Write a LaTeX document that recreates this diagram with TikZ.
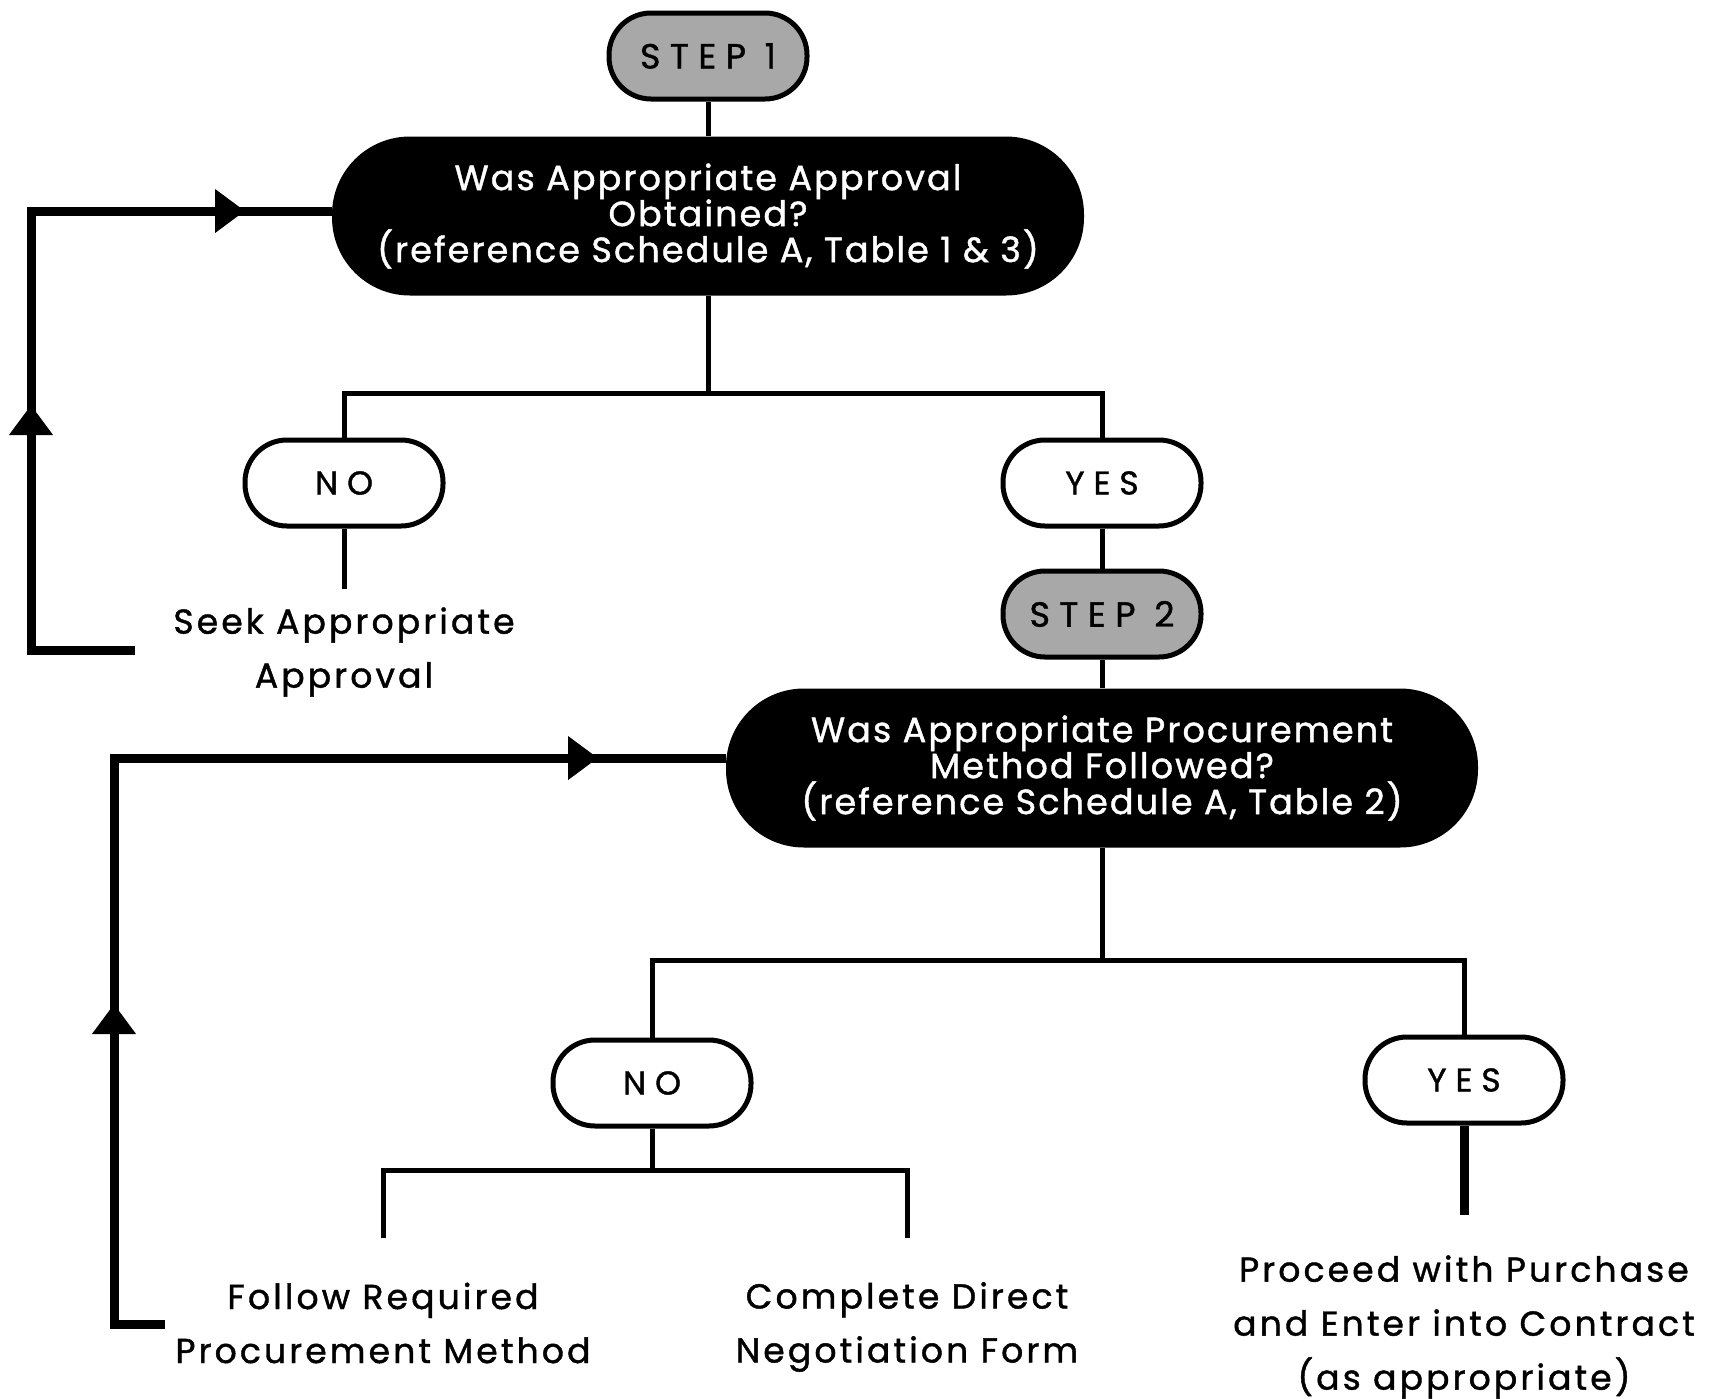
\documentclass[tikz,border=0pt]{standalone}
\usepackage{fontspec}
\setmainfont{Poppins}
\newfontfamily\stepfont{Poppins}[LetterSpace=27, FakeBold=1.2]
\newfontfamily\askfont{Poppins}[LetterSpace=6, FakeBold=1.2]
\newfontfamily\labelfont{Poppins}[LetterSpace=9, FakeBold=1.2]
\usetikzlibrary{arrows.meta}
\definecolor{stepgray}{HTML}{A8A8A8}

\tikzset{
  stepbox/.style={draw, line width=2.5pt, fill=stepgray, rounded corners=21pt,
    minimum width=99pt, minimum height=43pt, font=\stepfont\fontsize{17.5}{20}\selectfont},
  answer/.style={stepbox, fill=white, font=\stepfont\fontsize{16.5}{20}\selectfont},
  question/.style={fill=black, text=white, rounded corners=39pt, minimum width=376pt,
    minimum height=79.5pt, align=center, font=\askfont\fontsize{17.5}{18}\selectfont},
  outcome/.style={align=center, font=\labelfont\fontsize{17.3}{27}\selectfont},
  branch/.style={line width=2.5pt},
  backline/.style={line width=4.5pt},
  backtip/.style={backline, -{Triangle[length=15pt,width=21pt]}}
}

\begin{document}
\begin{tikzpicture}[x=0.5pt, y=-0.5pt]
   \useasboundingbox (0,0) rectangle (1721,1399);

   % step 1
   \node[stepbox] (step1) at (708,56) {STEP 1};
   \node[question] (q1) at (708,216)
      {Was Appropriate Approval\\Obtained?\\(reference Schedule A, Table 1 \& 3)};
   \node[answer] (no1) at (344,483) {NO};
   \node[answer] (yes1) at (1102,483) {YES};
   \node[outcome] (seek) at (344,652) {Seek Appropriate\\Approval};
   \coordinate (j1) at (708,393);
   \coordinate (s1) at (344,589);

   % step 2
   \node[stepbox] (step2) at (1102,614) {STEP 2};
   \node[question] (q2) at (1102,768)
      {Was Appropriate Procurement\\Method Followed?\\(reference Schedule A, Table 2)};
   \node[answer] (no2) at (652,1083) {NO};
   \node[answer] (yes2) at (1464,1080) {YES};
   \node[outcome] (follow) at (383,1323) {Follow Required\\Procurement Method};
   \node[outcome] (direct) at (907,1327) {Complete Direct\\Negotiation Form};
   \node[outcome] (proceed) at (1464,1327)
      {Proceed with Purchase\\and Enter into Contract\\(as appropriate)};
   \coordinate (j2) at (1102,960);
   \coordinate (j3) at (652,1170);
   \coordinate (f1) at (383,1238);
   \coordinate (d1) at (907,1238);
   \coordinate (p1) at (1464,1215);

   \draw[branch] (step1) -- (q1);
   \draw[branch] (q1) -- (j1);
   \draw[branch] (no1.north) |- (j1) -| (yes1.north);
   \draw[branch] (no1) -- (s1);
   \draw[branch] (yes1) -- (step2);
   \draw[branch] (step2) -- (q2);
   \draw[branch] (q2) -- (j2);
   \draw[branch] (no2.north) |- (j2) -| (yes2.north);
   \draw[branch] (no2) -- (j3);
   \draw[branch] (f1) |- (j3) -| (d1);
   \draw[backline] (yes2) -- (p1);

   % loops back
   \coordinate (b1) at (135,650);
   \coordinate (k1) at (31,211);
   \draw[backline] (b1) -| (k1) -- (k1 -| q1.west);
   \draw[backtip] (k1 |- b1) -- (31,405);
   \draw[backtip] (k1) -- (245,211);

   \coordinate (b2) at (165,1324);
   \coordinate (k2) at (114,758);
   \draw[backline] (b2) -| (k2) -- (k2 -| q2.west);
   \draw[backtip] (k2 |- b2) -- (114,1004);
   \draw[backtip] (k2) -- (598,758);
\end{tikzpicture}
\end{document}
